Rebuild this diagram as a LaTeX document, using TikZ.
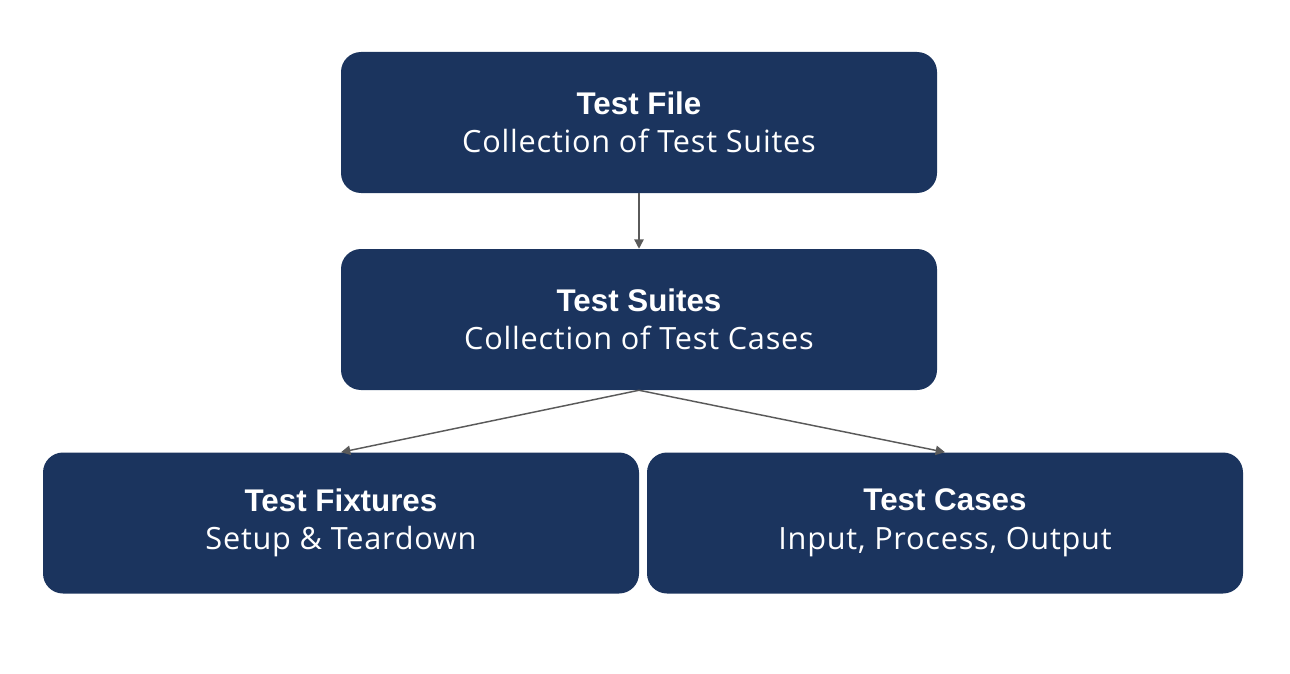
\documentclass[tikz,border=0pt]{standalone}
\usepackage{fontspec}
\setmainfont[LetterSpace=2.5]{Open Sans}
\newfontfamily\titlefont{Liberation Sans}
\usetikzlibrary{arrows.meta}
\definecolor{navy}{HTML}{1B345E}
\definecolor{arrowgray}{HTML}{5A5A5A}
\tikzset{
  box/.style={fill=navy, draw=none, rounded corners=15pt, minimum width=447pt, minimum height=105.75pt, text=white, align=center, inner sep=0pt, font=\fontsize{23}{28.9}\selectfont},
  conn/.style={draw=arrowgray, line width=1.1pt, -{Triangle[length=7pt,width=7pt]}},
}
\newcommand{\ttl}[1]{{\titlefont\bfseries\fontsize{23.5}{28.9}\selectfont #1}}
\begin{document}
\begin{tikzpicture}[x=0.75pt,y=-0.75pt]
\useasboundingbox (0,0) rectangle (1290,674);
\node[box] (file) at (639,122.5) {\ttl{Test File}\\Collection of Test Suites};
\node[box] (suites) at (639,319.5) {\ttl{Test Suites}\\Collection of Test Cases};
\node[box] (fix) at (341,523) {\ttl{Test Fixtures}\\Setup \& Teardown};
\node[box] (cases) at (945,523) {\ttl{Test Cases}\\Input, Process, Output};
\draw[conn] (file.south) -- (suites.north);
\draw[conn] (suites.south) -- (fix.north);
\draw[conn] (suites.south) -- (cases.north);
\end{tikzpicture}
\end{document}
